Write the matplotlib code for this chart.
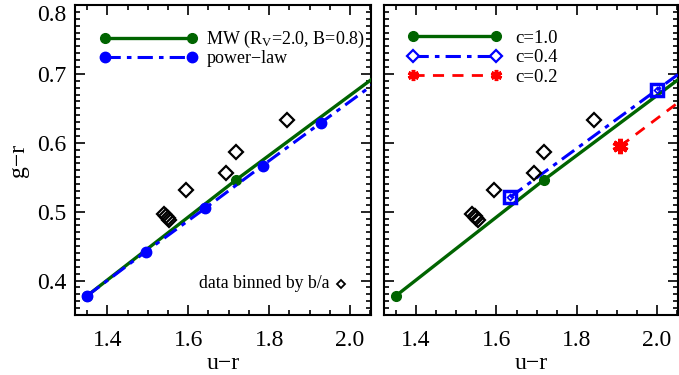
import matplotlib
matplotlib.use("Agg")
import matplotlib.pyplot as plt
from matplotlib.lines import Line2D
from matplotlib.ticker import MultipleLocator

plt.rcParams['font.family'] = ['Liberation Serif', 'DejaVu Serif']
plt.rcParams['mathtext.fontset'] = 'custom'
plt.rcParams['mathtext.rm'] = 'Liberation Serif'
plt.rcParams['mathtext.it'] = 'Liberation Serif:italic'

# data
data_ur = [1.540, 1.546, 1.550, 1.553, 1.595, 1.693, 1.719, 1.844]
data_gr = [0.497, 0.494, 0.491, 0.488, 0.532, 0.556, 0.587, 0.633]

mw_ur = [1.35, 1.718, 2.09]
mw_gr = [0.378, 0.546, 0.708]

pl_ur = [1.35, 1.495, 1.642, 1.784, 1.928, 2.07]
pl_gr = [0.378, 0.442, 0.505, 0.567, 0.629, 0.690]

c10_ur = [1.35, 1.718, 2.09]
c10_gr = [0.378, 0.546, 0.708]

c04_ur = [1.634, 2.000, 2.20]
c04_gr = [0.521, 0.677, 0.762]

c02_ur = [1.908, 2.20]
c02_gr = [0.595, 0.723]

xlim = (1.32, 2.052)
ylim = (0.35, 0.80)
xticks = [1.4, 1.6, 1.8, 2.0]
xticklabels = ['1.4', '1.6', '1.8', '2.0']
yticks = [0.4, 0.5, 0.6, 0.7, 0.8]
yticklabels = ['0.4', '0.5', '0.6', '0.7', '0.8']

GREEN = '#006400'
BLUE = '#0000ff'
RED = '#ff0000'

fig = plt.figure(figsize=(6.79, 3.75), dpi=100)
ax1 = fig.add_axes([0.1105, 0.16, 0.4359, 0.8267])
ax2 = fig.add_axes([0.5655, 0.16, 0.4330, 0.8267])


def style(ax, ylabels=True):
    ax.set_xlim(*xlim)
    ax.set_ylim(*ylim)
    ax.set_xticks(xticks)
    ax.set_xticklabels(xticklabels)
    ax.set_yticks(yticks)
    if ylabels:
        labs = ax.set_yticklabels(yticklabels)
        labs[-1].set_verticalalignment('top')
    else:
        ax.set_yticklabels([])
    ax.xaxis.set_minor_locator(MultipleLocator(0.05))
    ax.yaxis.set_minor_locator(MultipleLocator(0.01))
    ax.tick_params(which='both', direction='in', top=True, right=True,
                   width=1.2, labelsize=17)
    ax.tick_params(axis='x', which='both', pad=11)
    ax.tick_params(axis='y', which='both', pad=6)
    ax.tick_params(which='major', length=7)
    ax.tick_params(which='minor', length=3.5)
    for s in ax.spines.values():
        s.set_linewidth(1.5)
    ax.set_xlabel('u\u2212r', fontsize=17, labelpad=1)


def plot_data(ax):
    ax.plot(data_ur, data_gr, linestyle='none', marker='D', ms=6.8,
            mfc='none', mec='black', mew=1.6, zorder=5)


# left panel
style(ax1, True)
ax1.set_ylabel('g\u2212r', fontsize=17, labelpad=6)
plot_data(ax1)
l_mw, = ax1.plot(mw_ur, mw_gr, color=GREEN, lw=2.4, marker='o', ms=7,
                 label='MW (R$_\\mathregular{V}$=2.0, B=0.8)', zorder=3)
l_pl, = ax1.plot(pl_ur, pl_gr, color=BLUE, lw=2.2, ls=(0, (5, 2, 1.5, 2)),
                 marker='o', ms=7.5, label='power\u2212law', zorder=4)
ax1.legend(handles=[l_mw, l_pl], loc='upper left', frameon=False,
           fontsize=13, handlelength=5.4, numpoints=2,
           borderaxespad=0.4, bbox_to_anchor=(0.035, 0.968),
           handletextpad=0.5, labelspacing=0.0)
ax1.text(0.861, 0.1, 'data binned by b/a', transform=ax1.transAxes,
         ha='right', va='center', fontsize=12.8)
ax1.plot([0.899], [0.1], transform=ax1.transAxes, marker='D', ms=4.5,
         mfc='none', mec='black', mew=1.3, linestyle='none')

# right panel
style(ax2, False)
plot_data(ax2)
ax2.plot(c10_ur, c10_gr, color=GREEN, lw=2.4, marker='o', ms=7, zorder=3)
ax2.plot(c04_ur, c04_gr, color=BLUE, lw=2.2, ls=(0, (5, 2, 1.5, 2)),
         marker='s', ms=8.5, mfc='none', mec=BLUE, mew=2.5, zorder=4)
ax2.plot(c04_ur, c04_gr, linestyle='none', marker='D', ms=3,
         mfc='none', mec=BLUE, mew=1.2, zorder=4)
ax2.plot(c02_ur, c02_gr, color=RED, lw=2.0, ls=(0, (4, 3)),
         marker=(6, 2, 0), ms=11, mec=RED, mew=3.5, zorder=4)

h10 = Line2D([], [], color=GREEN, lw=2.4, marker='o', ms=7)
h04 = Line2D([], [], color=BLUE, lw=2.2, ls=(0, (5, 2, 1.5, 2)),
             marker='D', ms=6, mfc='white', mec=BLUE, mew=1.6)
h02 = Line2D([], [], color=RED, lw=2.0, ls=(0, (4, 3)),
             marker=(6, 2, 0), ms=8, mec=RED, mew=2.5)
ax2.legend(handles=[h10, h04, h02], labels=['c=1.0', 'c=0.4', 'c=0.2'],
           loc='upper left', frameon=False, fontsize=13.5,
           handlelength=5.0, numpoints=2, bbox_to_anchor=(0.03, 0.968),
           borderaxespad=0.4, handletextpad=0.75, labelspacing=0.12)

fig.savefig('out.png', dpi=100)
